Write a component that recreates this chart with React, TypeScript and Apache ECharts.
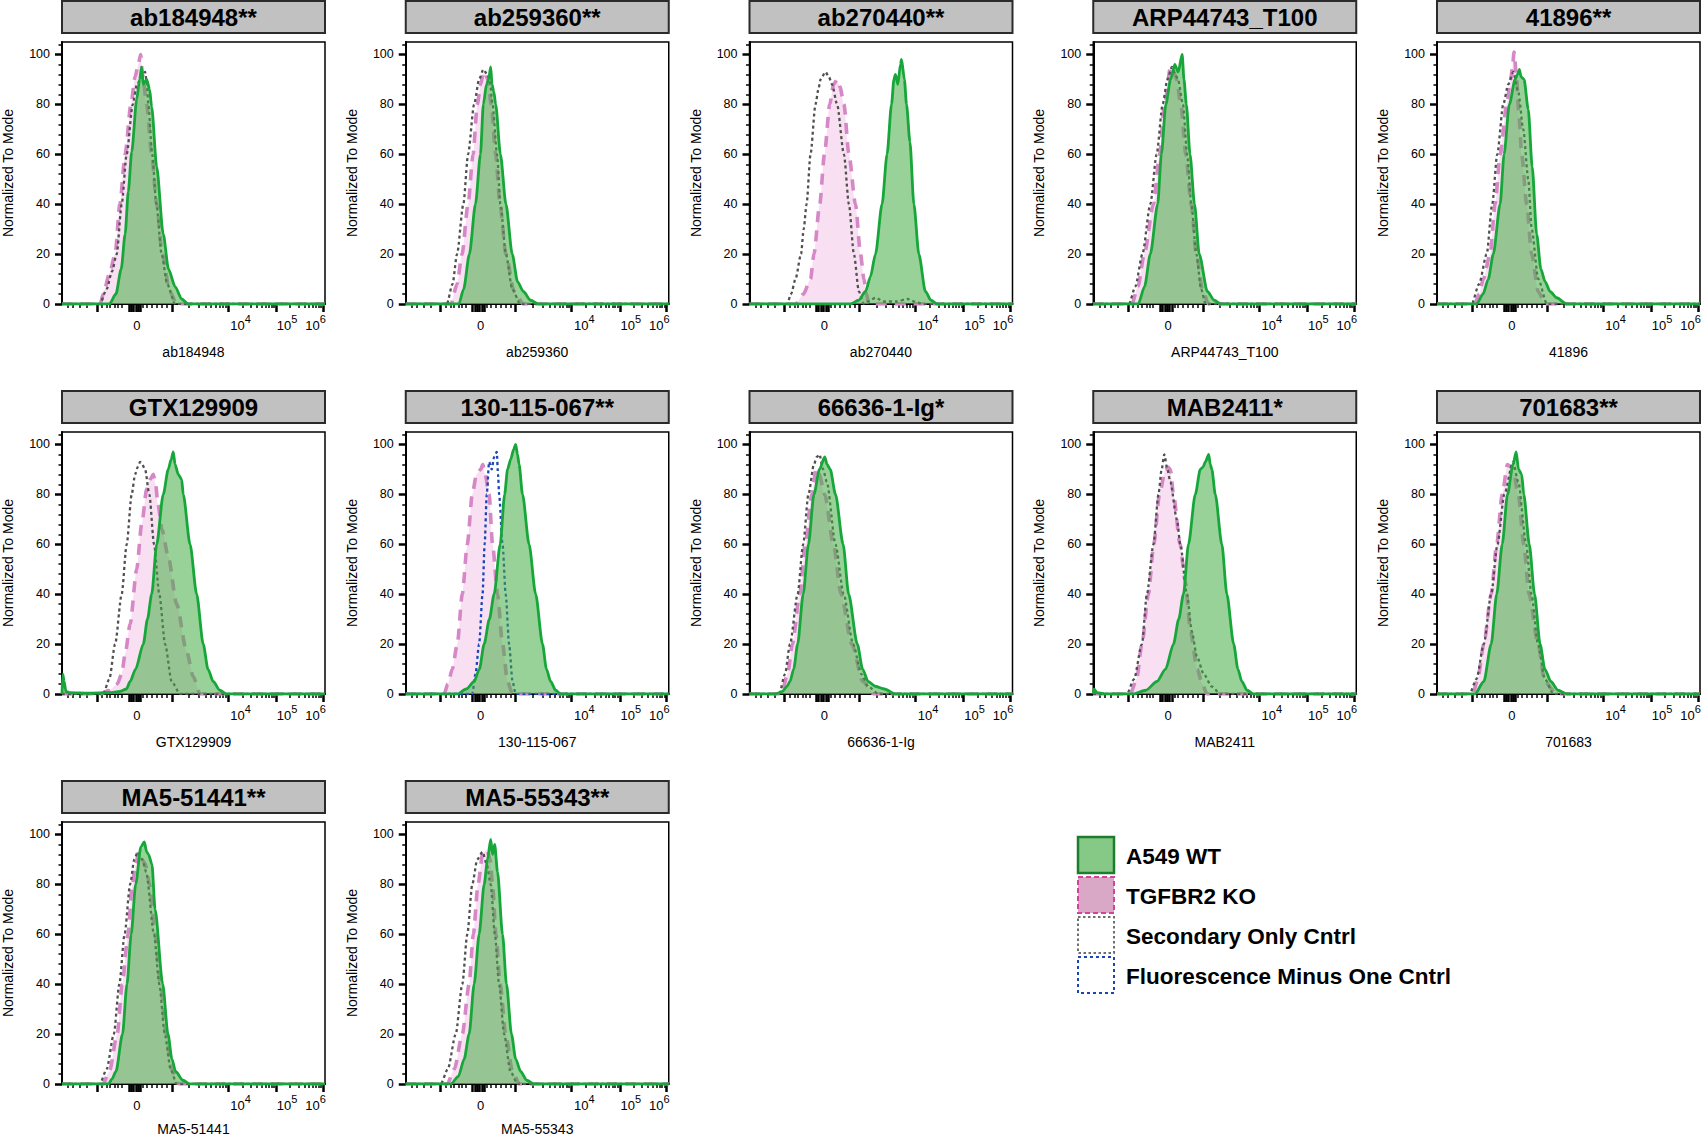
import React, { useEffect, useRef } from "react";
import * as echarts from "echarts";

const FONT = "'Liberation Sans', Arial, Helvetica, sans-serif";

// ---------- panel texts ----------
const PANEL_TITLES = [
  "ab184948**", "ab259360**", "ab270440**", "ARP44743_T100", "41896**",
  "GTX129909", "130-115-067**", "66636-1-Ig*", "MAB2411*", "701683**",
  "MA5-51441**", "MA5-55343**",
];
const AXIS_NAMES = [
  "ab184948", "ab259360", "ab270440", "ARP44743_T100", "41896",
  "GTX129909", "130-115-067", "66636-1-Ig", "MAB2411", "701683",
  "MA5-51441", "MA5-55343",
];
const LEGEND_LABELS = ["A549 WT", "TGFBR2 KO", "Secondary Only Cntrl", "Fluorescence Minus One Cntrl"];
const Y_NAME = "Normalized To Mode";

// ---------- axes (x in display units of a biexponential scale, 0..100) ----------
const Y_TICKS = [0, 20, 40, 60, 80, 100];
const Y_MINOR = [4, 8, 12, 16, 24, 28, 32, 36, 44, 48, 52, 56, 64, 68, 72, 76, 84, 88, 92, 96, 104];
const X_DECADES = [41.8, 63.1, 81.4, 99.2]; // 10^3, 10^4, 10^5, 10^6
const X_MAJOR = [13.3, 25.4, 26.3, 27.2, 28.1, 29.0, 29.9, 41.8, 63.1, 81.4, 99.2];
const X_LINEAR_MINOR = [2.3, 4.2, 6.8, 9.5, 15.2, 17.1, 18.3, 20.2, 21.3, 22.8, 30.8, 32.3, 34.2, 36.1, 38.0, 39.9];
const X_LABEL_POS = [28.5, 67.9, 85.6, 96.4];
const X_LABEL_BASE = ["0", "10", "10", "10"];
const X_LABEL_EXP = ["", "4", "5", "6"];

// ---------- data: [display x, % of mode] ----------
const ab184948_WT = [[18,0],[20.5,4],[22.5,14],[24,28],[25.2,45],[26.5,61],[28.4,82],[29.5,90],[30.3,95],[30.9,88],[32.2,90],[33.3,86],[34.1,79],[36,55],[38.5,28],[40.5,14],[43,7],[45.5,2],[48,0]];
const ab184948_KO = [[14.5,0],[15.7,4],[18,12],[20.2,20],[22,40],[24,60],[26.2,80],[27.8,91],[29,96],[29.9,100],[30.6,92],[32.2,80],[34.1,60],[36,40],[38.1,20],[41,5],[43.6,0]];
const ab184948_SEC = [[14.4,0],[17,6],[19,13],[20.8,20],[22.7,40],[24.6,60],[26.9,80],[28.5,88],[30,90],[31.6,93],[32.3,88],[32.8,80],[34.3,60],[35.9,40],[37.9,20],[40,8],[43,0]];

const ab259360_WT = [[20.2,0],[22,6],[24.2,20],[26.5,40],[28.4,60],[29.5,80],[30.7,88],[31.5,90],[32.3,95],[32.8,88],[33.5,85],[34.2,80],[36,60],[38.1,40],[40.5,20],[42.5,9],[44.7,5],[47.5,1.5],[50.5,0]];
const ab259360_KO = [[17.2,0],[19.5,8],[21.4,20],[23.7,40],[25.6,60],[27.2,80],[28.5,88],[29.5,93],[30.3,92],[31.2,90],[32.5,80],[34.2,60],[35.8,40],[38.1,20],[41.2,5],[44.7,0]];
const ab259360_SEC = [[15.6,0],[17.8,8],[19.5,20],[21.9,40],[23.7,60],[26,80],[27.9,90],[29.5,94],[31,92],[31.9,90],[33,80],[34.7,60],[36,40],[38.1,20],[40.5,6],[43.5,0]];

const ab270440_WT = [[38.4,0],[41.5,1.5],[44.1,5],[46,11],[47.9,20],[50.4,40],[52.3,60],[54,80],[54.9,90],[55.5,92],[56.4,88],[57.4,96],[57.8,98],[58.9,90],[59.7,80],[61,65],[62.5,40],[64.4,20],[66.9,5],[69,1.5],[71.4,0]];
const ab270440_KO = [[17.5,0],[20.5,4],[23.2,10],[24.5,20],[26.7,40],[28.5,60],[30.5,80],[32,88],[33.3,90],[34.4,87],[35.9,80],[37.8,60],[40.3,40],[42.2,20],[43.5,10],[44.5,4],[45.4,0]];
const ab270440_SEC = [[14.3,0],[15.8,4],[17.5,10],[19.6,20],[20.6,30],[21.7,40],[23.2,60],[25.1,80],[26.2,86],[27,90],[28.9,93],[30.2,91],[31.4,88],[33.3,80],[35.9,60],[37.8,40],[39.7,20],[41.6,5],[43.5,0],[45,1],[48,2.5],[51,1],[56,1],[60,2],[64,0.5],[66,0]];

const ARP44743_WT = [[17.1,0],[19.5,7],[21.7,20],[24.5,40],[25.9,60],[27.6,80],[29.4,90],[31,96],[32.3,93],[33.8,100],[34.5,90],[35.4,80],[36.8,60],[38.5,40],[40.3,20],[43.4,5],[46,1.5],[48.5,0]];
const ARP44743_KO = [[14.7,0],[17,7],[19.4,20],[22.9,40],[25.2,60],[27.1,80],[29.4,95],[30.6,93],[31.7,90],[33.3,80],[35.2,60],[37.2,40],[39.2,20],[41.5,6],[43.8,0]];
const ARP44743_SEC = [[13.6,0],[16,7],[18.7,20],[21.7,40],[24.1,60],[26.4,80],[28.2,90],[29.9,95],[31.2,92],[32.2,90],[34.1,80],[35.7,60],[37.3,40],[39.2,20],[41,6],[42.7,0]];

const n41896_WT = [[15.1,0],[17.5,4],[19.5,10],[21.4,20],[24,40],[25.5,60],[27.5,80],[29.7,90],[30.6,92],[31.3,94],[32,91],[33.1,90],[34.7,78],[36.2,55],[37.9,28],[39.5,14],[41.1,9],[43,5],[45.5,2.5],[49.3,0]];
const n41896_KO = [[14.4,0],[16,4],[17.6,10],[20.2,20],[22.1,40],[24,60],[26.5,80],[28,90],[28.7,95],[29.3,101],[30.3,90],[31.2,75],[32.2,60],[34.1,40],[36,20],[38.5,5],[41.1,0]];
const n41896_SEC = [[13.2,0],[16,8],[18.9,20],[21,40],[22.9,60],[25.2,80],[27.1,88],[29,93],[30.9,85],[32.8,70],[34.7,50],[36,30],[38.5,10],[41.8,0]];

const GTX129909_WT = [[0.3,8],[0.8,5],[1.5,1],[3,0.5],[10,0.3],[18,0.5],[22,1],[24.5,2],[25.9,5],[28,10],[30.9,20],[32.5,30],[34.1,40],[36,60],[38.5,80],[40.4,90],[41.5,94],[42.3,97],[43,92],[44.2,88],[45.5,86],[46.1,80],[48.7,60],[51.2,40],[53.7,20],[55.5,10],[57.5,5],[60,1.5],[62.6,0]];
const GTX129909_KO = [[14.4,0],[18,1.5],[21,4],[22.7,8],[24,16],[25.9,28],[28.4,50],[30.3,68],[32.2,82],[33.5,86],[34.7,88],[35.6,84],[36.5,76],[38,66],[40.4,55],[43.6,36],[47.4,17],[49.9,7],[52.5,0]];
const GTX129909_SEC = [[15.7,0],[18,6],[20.2,20],[22.7,40],[24.6,60],[26.5,80],[27.8,88],[28.8,91],[29.7,93],[30.5,92],[31.6,90],[33.2,80],[35,60],[37,40],[39.2,20],[41.7,5],[44.9,0]];

const n130115067_WT = [[19.6,0],[23,2],[26,5],[28,10],[29.8,20],[31.8,30],[33.6,40],[35.9,60],[37.6,80],[38.7,90],[39.9,94],[41,98],[41.8,100],[42.5,96],[43.1,92],[44.4,80],[46.9,60],[49.4,40],[52,20],[53.5,10],[55.1,5],[57,1.5],[58.9,0]];
const n130115067_KO = [[14.6,0],[16,4],[17.7,10],[19.6,20],[21.5,40],[23.4,60],[25.3,80],[26.9,88],[28.5,90],[29.3,92],[30.2,88],[31.7,80],[33,60],[34.9,40],[36.8,20],[38.7,5],[40.6,0]];
const n130115067_FMO = [[25.3,0],[26.5,8],[27.9,20],[29.2,40],[30,60],[30.8,80],[31.7,93],[32.7,90],[33.6,95],[34.6,97],[35.1,88],[35.5,80],[36.8,60],[38,40],[39.3,20],[40.6,5],[41.8,0]];

const n66636_WT = [[10,0],[12.5,1],[14.2,3],[15.4,5],[16.8,10],[18.3,20],[20.4,40],[22.4,60],[24.5,80],[26.6,90],[28.6,95],[29.5,92],[30.7,90],[32.7,80],[35.6,60],[37.7,40],[41,20],[43,10],[45.1,5],[48,3],[51.3,2],[55.4,0]];
const n66636_KO = [[12.1,0],[14.5,8],[16.3,20],[19.1,40],[21.2,60],[23.7,80],[25.3,90],[26.5,88],[28.6,80],[31.9,60],[34.8,40],[38.9,20],[43.1,5],[47.2,0]];
const n66636_SEC = [[11.3,0],[13.5,8],[15.4,20],[18.3,40],[20.4,60],[22.4,80],[24.5,92],[25.6,95],[26.6,96],[28,90],[29.4,85],[32.7,60],[35.8,40],[39.4,20],[42.5,8],[45.1,3],[49.1,0]];

const MAB2411_WT = [[0.3,2],[1.5,0.5],[5,0],[15.3,0],[20,1.5],[24.2,5],[27.5,10],[30.5,20],[32.5,30],[34.3,40],[36.2,60],[38.8,80],[40.7,90],[41.8,91],[42.6,93],[43.9,96],[44.5,92],[45.1,90],[46.4,80],[48.9,60],[50.8,40],[53.4,20],[55,10],[56.5,5],[58.5,1.5],[61,0]];
const MAB2411_KO = [[14.1,0],[16.5,6],[18.5,20],[21,40],[23,60],[25.2,80],[27.4,90],[28.4,91],[29.3,90],[30.5,80],[33,60],[35,45],[37,25],[39.5,10],[41.5,4],[43.2,0]];
const MAB2411_SEC = [[12.8,0],[15.5,6],[18.5,20],[20.4,40],[22.9,60],[24.8,80],[26,90],[27,96],[28.2,90],[29.3,85],[31.8,70],[33.1,60],[35.6,40],[37.5,25],[39.4,15],[42,8],[45.1,3],[48.3,0]];

const n701683_WT = [[14.4,0],[17.8,5],[20.6,20],[22.7,40],[24.8,60],[26.8,80],[28.9,92],[30.1,97],[31,90],[32.2,88],[33,80],[35.1,60],[37.1,40],[39.2,20],[41,10],[43.3,5],[46,1.5],[49.5,0]];
const n701683_KO = [[13.6,0],[15.5,6],[17.8,20],[20.6,40],[22.7,60],[24.8,80],[26.8,92],[28,91],[28.9,90],[30.9,80],[33,60],[35,40],[38.4,20],[41,5],[45.4,0]];
const n701683_SEC = [[12.4,0],[15,6],[17.8,20],[20.6,40],[23,60],[25.6,80],[28.9,93],[30.9,85],[33.9,60],[35.9,40],[38.4,20],[41,6],[44.2,0]];

const MA551441_WT = [[17.7,0],[19,2],[20.5,5],[23,20],[24.7,40],[26.3,60],[28,80],[30,95],[31.3,97],[32.2,93],[32.9,92],[34.2,88],[35.4,70],[38.3,40],[40.3,20],[41.8,10],[43.2,5],[46,1.5],[48.6,0]];
const MA551441_KO = [[15.6,0],[18,5],[21,20],[22.9,40],[25.1,60],[26.7,80],[28,88],[29.2,93],[30.5,90],[31.7,88],[33.3,80],[35.4,60],[37.5,40],[39.5,20],[42,5],[44.5,0]];
const MA551441_SEC = [[14.4,0],[17,6],[19.7,20],[21.8,40],[23.8,60],[25.9,80],[27.5,90],[28.8,93],[30.5,90],[32,85],[35,60],[37,40],[39.1,20],[41.3,6],[43.6,0]];

const MA555343_WT = [[17.1,0],[20,3],[22.2,10],[24.1,20],[26,40],[27.9,60],[29.8,80],[31.1,90],[32.3,98],[33,92],[33.8,96],[34.9,85],[36.8,60],[38.3,40],[40.2,20],[41.8,10],[43.7,5],[46,1.5],[48.8,0]];
const MA555343_KO = [[15.8,0],[18.5,6],[21.5,20],[24.1,40],[25.7,60],[27.5,80],[29.2,92],[30.8,94],[32.1,90],[33,80],[34.3,60],[35.9,40],[38,20],[40.6,5],[43.2,0]];
const MA555343_SEC = [[13.3,0],[16,6],[19,20],[21.5,40],[23.4,60],[25.3,80],[27.2,90],[29.2,93],[30.8,88],[32.3,80],[33.9,60],[35.5,40],[37.4,20],[39.8,5],[42.5,0]];

type Pts = number[][];
interface Panel { wt: Pts; ko: Pts; sec?: Pts; fmo?: Pts; }
const PANEL_DATA: Panel[] = [
  { wt: ab184948_WT, ko: ab184948_KO, sec: ab184948_SEC },
  { wt: ab259360_WT, ko: ab259360_KO, sec: ab259360_SEC },
  { wt: ab270440_WT, ko: ab270440_KO, sec: ab270440_SEC },
  { wt: ARP44743_WT, ko: ARP44743_KO, sec: ARP44743_SEC },
  { wt: n41896_WT, ko: n41896_KO, sec: n41896_SEC },
  { wt: GTX129909_WT, ko: GTX129909_KO, sec: GTX129909_SEC },
  { wt: n130115067_WT, ko: n130115067_KO, fmo: n130115067_FMO },
  { wt: n66636_WT, ko: n66636_KO, sec: n66636_SEC },
  { wt: MAB2411_WT, ko: MAB2411_KO, sec: MAB2411_SEC },
  { wt: n701683_WT, ko: n701683_KO, sec: n701683_SEC },
  { wt: MA551441_WT, ko: MA551441_KO, sec: MA551441_SEC },
  { wt: MA555343_WT, ko: MA555343_KO, sec: MA555343_SEC },
];

// ---------- layout & style ----------
const COL0 = 62, COL_STEP = 343.75, ROW0 = 42, ROW_STEP = 390, PW = 263, PH = 262;
const C_WT_LINE = "#17a63a", C_WT_FILL = "rgba(68,172,68,0.78)";
const C_KO_LINE = "#d587c6", C_KO_FILL = "rgba(238,184,226,0.62)";
const C_SEC = "#505050", C_FMO = "#1b45b3";

function withBase(p: Pts): Pts {
  const out = p.slice();
  if (out[0][0] > 0) out.unshift([0, 0]);
  if (out[out.length - 1][0] < 100) out.push([100, 0]);
  return out;
}

function xLabel(v: number): string {
  let k = 0;
  for (let j = 1; j < X_LABEL_POS.length; j++) {
    if (Math.abs(X_LABEL_POS[j] - v) < Math.abs(X_LABEL_POS[k] - v)) k = j;
  }
  return "{b|" + X_LABEL_BASE[k] + "}" + (X_LABEL_EXP[k] ? "{s|" + X_LABEL_EXP[k] + "}" : "");
}

function buildOption() {
  const minorX: number[] = X_LINEAR_MINOR.slice();
  for (let d = 0; d < X_DECADES.length - 1; d++) {
    for (let m = 2; m <= 9; m++) {
      minorX.push(X_DECADES[d] + (X_DECADES[d + 1] - X_DECADES[d]) * Math.log10(m));
    }
  }
  const grids: any[] = [], xAxes: any[] = [], yAxes: any[] = [], series: any[] = [], graphics: any[] = [];
  const txt = { fontFamily: FONT, color: "#000" };

  PANEL_DATA.forEach((p, i) => {
    const col = i % 5, row = Math.floor(i / 5);
    const left = COL0 + COL_STEP * col, top = ROW0 + ROW_STEP * row;
    grids.push({ left, top, width: PW, height: PH, show: true, backgroundColor: "#fff", borderColor: "#000", borderWidth: 1.5, containLabel: false, outerBoundsMode: "none" });
    xAxes.push({
      gridIndex: i, type: "value", min: 0, max: 100, position: "bottom",
      axisLine: { show: true, onZero: false, lineStyle: { color: "#000", width: 2 } },
      axisTick: { show: true, inside: false, length: 8, customValues: X_MAJOR, lineStyle: { color: "#000", width: 2.5 } },
      axisLabel: {
        show: true, margin: 8, customValues: X_LABEL_POS, hideOverlap: false,
        formatter: (v: any) => xLabel(Number(v)),
        rich: {
          b: { ...txt, fontSize: 13, lineHeight: 26 },
          s: { ...txt, fontSize: 11, lineHeight: 14, padding: [0, 0, 12, 0] },
        },
      },
      splitLine: { show: false },
      name: AXIS_NAMES[i], nameLocation: "middle", nameGap: row < 2 ? 41 : 38,
      nameTextStyle: { ...txt, fontSize: 14 },
    });
    xAxes.push({
      gridIndex: i, type: "value", min: 0, max: 100, position: "bottom",
      axisLine: { show: false, onZero: false },
      axisTick: { show: true, inside: false, length: 4, customValues: minorX, lineStyle: { color: "#000", width: 1.5 } },
      axisLabel: { show: false }, splitLine: { show: false },
    });
    yAxes.push({
      gridIndex: i, type: "value", min: 0, max: 105, position: "left",
      axisLine: { show: true, onZero: false, lineStyle: { color: "#000", width: 2 } },
      axisTick: { show: true, inside: false, length: 7, customValues: Y_TICKS, lineStyle: { color: "#000", width: 2.5 } },
      axisLabel: { show: true, margin: 12, customValues: Y_TICKS, ...txt, fontSize: 12.5 },
      splitLine: { show: false },
      name: Y_NAME, nameLocation: "middle", nameGap: 47, nameRotate: 90,
      nameTextStyle: { ...txt, fontSize: 14 },
    });
    yAxes.push({
      gridIndex: i, type: "value", min: 0, max: 105, position: "left",
      axisLine: { show: false, onZero: false },
      axisTick: { show: true, inside: false, length: 3.5, customValues: Y_MINOR, lineStyle: { color: "#000", width: 1.5 } },
      axisLabel: { show: false }, splitLine: { show: false },
    });

    const xi = 2 * i, yi = 2 * i;
    const base = { type: "line", xAxisIndex: xi, yAxisIndex: yi, symbol: "none", showSymbol: false, smooth: 0.25, smoothMonotone: "x", silent: true };
    series.push({ ...base, name: LEGEND_LABELS[1], data: withBase(p.ko), z: 2,
      lineStyle: { color: C_KO_LINE, width: 3.6, type: [11, 8] }, areaStyle: { color: C_KO_FILL } });
    if (p.sec) series.push({ ...base, name: LEGEND_LABELS[2], data: withBase(p.sec), z: 3,
      lineStyle: { color: C_SEC, width: 2.3, type: [3, 3] } });
    if (p.fmo) series.push({ ...base, name: LEGEND_LABELS[3], data: withBase(p.fmo), z: 3,
      lineStyle: { color: C_FMO, width: 2.3, type: [3, 3] } });
    series.push({ ...base, name: LEGEND_LABELS[0], data: withBase(p.wt), z: 4,
      lineStyle: { color: C_WT_LINE, width: 2.8 }, areaStyle: { color: C_WT_FILL } });

    // title box
    graphics.push({ type: "rect", shape: { x: left, y: top - 41, width: PW, height: 32 },
      style: { fill: "#c1c1c1", stroke: "#2b2b2b", lineWidth: 2 }, z: 10 });
    graphics.push({ type: "text", x: left + PW / 2, y: top - 24.5,
      style: { text: PANEL_TITLES[i], fill: "#000", font: "bold 24px " + FONT, align: "center", verticalAlign: "middle" }, z: 11 });
  });

  // legend
  const legendStyles = [
    { fill: "#86c986", stroke: "#1d7d2e", lineWidth: 2.5, lineDash: null },
    { fill: "#d9a8c6", stroke: "#d6429b", lineWidth: 2, lineDash: [5, 3] },
    { fill: "#ffffff", stroke: "#6e6e6e", lineWidth: 2, lineDash: [2.5, 2.5] },
    { fill: "#ffffff", stroke: "#1b45b3", lineWidth: 2, lineDash: [3, 3] },
  ];
  LEGEND_LABELS.forEach((label, k) => {
    graphics.push({ type: "rect", shape: { x: 1078, y: 837 + 40 * k, width: 36, height: 36 }, style: legendStyles[k], z: 10 });
    graphics.push({ type: "text", x: 1126, y: 856 + 40 * k,
      style: { text: label, fill: "#000", font: "bold 22.5px " + FONT, align: "left", verticalAlign: "middle" }, z: 11 });
  });

  return {
    animation: false,
    backgroundColor: "#ffffff",
    grid: grids, xAxis: xAxes, yAxis: yAxes, series, graphic: graphics,
  };
}

export default function App() {
  const ref = useRef<HTMLDivElement>(null);
  useEffect(() => {
    document.body.style.margin = "0";
    if (!ref.current) return;
    const chart = echarts.init(ref.current, undefined, { renderer: "svg" });
    chart.setOption(buildOption() as any);
    return () => chart.dispose();
  }, []);
  return <div ref={ref} style={{ width: 1701, height: 1137, background: "#fff" }} />;
}
